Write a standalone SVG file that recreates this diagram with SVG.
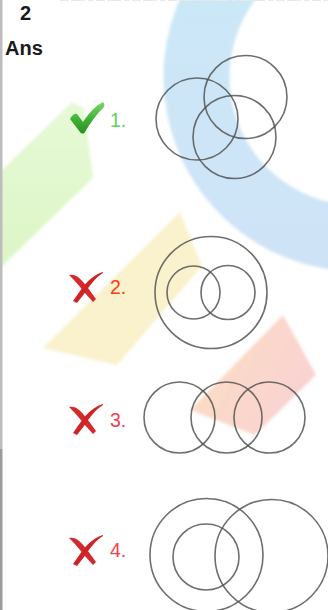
<svg xmlns="http://www.w3.org/2000/svg" width="328" height="610" viewBox="0 0 328 610">
  <defs>
    <filter id="soft" x="-20%" y="-20%" width="140%" height="140%">
      <feGaussianBlur stdDeviation="1.8"/>
    </filter>
    <linearGradient id="pinkGrad" x1="0" y1="0" x2="1" y2="0.4">
      <stop offset="0" stop-color="#fbdfc0"/>
      <stop offset="1" stop-color="#f9d2d2"/>
    </linearGradient>
    <linearGradient id="blueGrad" x1="0" y1="0" x2="0" y2="1">
      <stop offset="0" stop-color="#cae9f7"/>
      <stop offset="1" stop-color="#cfe3f7"/>
    </linearGradient>
    <linearGradient id="greenGrad" x1="0" y1="0" x2="0" y2="1">
      <stop offset="0" stop-color="#e6f9d6"/>
      <stop offset="1" stop-color="#dcf6c6"/>
    </linearGradient>
    <linearGradient id="checkGrad" x1="0" y1="0" x2="0" y2="1">
      <stop offset="0" stop-color="#7ad86a"/>
      <stop offset="0.6" stop-color="#3cad32"/>
      <stop offset="1" stop-color="#2a8f26"/>
    </linearGradient>
    <g id="xmark">
      <path d="M2,4 C9,2 15,9 21,17 L29,28 L26,31 L17,21 C11,13 6,8 2,4 Z" fill="#d42a2c"/>
      <path d="M36,1 C28,3 20,10 13,20 L6,30 L10,32 L17,23 C23,14 29,6 36,2 Z" fill="#cf2325"/>
    </g>
  </defs>
  <style>
    .ring { fill: none; stroke: #4e4e4e; stroke-opacity: 0.82; stroke-width: 1.6; }
    .head { font-family: "Liberation Sans", Arial, sans-serif; font-weight: bold; font-size: 20px; fill: #1a1a1a; }
    .lbl { font-family: "Liberation Sans", Arial, sans-serif; font-size: 19.5px; }
  </style>

  <rect width="328" height="610" fill="#ffffff"/>

  <!-- background decoration -->
  <g id="background" filter="url(#soft)">
    <circle cx="358" cy="77" r="161.5" fill="none" stroke="url(#blueGrad)" stroke-width="66"/>
    <path d="M0,172 L72,102 L84,108 L93,178 L0,268 Z" fill="url(#greenGrad)"/>
    <path d="M180,212 L202,266 L117,365 L43,348 Z" fill="#f9f2cd"/>
    <path d="M283,315 L316,375 L255,435 L190,410 Z" fill="url(#pinkGrad)"/>
  </g>

  <!-- top clipped remnant -->
  <line x1="60" y1="0.5" x2="328" y2="0.5" stroke="#e8e8e8" stroke-width="1" stroke-dasharray="9 2 14 3 6 2"/>

  <!-- left border -->
  <rect x="0" y="0" width="2.5" height="449" fill="#bdbdbd"/>
  <rect x="0" y="449" width="2.5" height="161" fill="#9c9c9c"/>

  <g id="header">
    <text class="head" x="20" y="19.5">2</text>
    <text class="head" x="5" y="54.5">Ans</text>
  </g>

  <g id="option1">
    <path d="M70,119 C72,115 75,113 77,114 L83,122 C89,113 95,106 103,102 C104,103 105,105 104,107 C97,114 90,123 85,132 C84,134 81,134 80,132 Z" fill="url(#checkGrad)"/>
    <text class="lbl" x="110" y="127" fill="#62cf62">1.</text>
    <circle class="ring" cx="197" cy="119" r="41"/>
    <circle class="ring" cx="245.5" cy="97" r="41.5"/>
    <circle class="ring" cx="234.5" cy="137" r="41.5"/>
  </g>

  <g id="option2">
    <use href="#xmark" x="67" y="271"/>
    <text class="lbl" x="110" y="294" fill="#ff3a14">2.</text>
    <circle class="ring" cx="211" cy="292.5" r="56"/>
    <circle class="ring" cx="193.5" cy="292.5" r="26.5"/>
    <circle class="ring" cx="228" cy="292.5" r="27"/>
  </g>

  <g id="option3">
    <use href="#xmark" x="67" y="403"/>
    <text class="lbl" x="110" y="426.5" fill="#f2404e">3.</text>
    <circle class="ring" cx="179.5" cy="417.5" r="35.5"/>
    <circle class="ring" cx="226.5" cy="417.5" r="35.5"/>
    <circle class="ring" cx="269.5" cy="417.5" r="35.5"/>
  </g>

  <g id="option4">
    <use href="#xmark" x="67" y="534"/>
    <text class="lbl" x="110" y="557" fill="#f2404e">4.</text>
    <circle class="ring" cx="206.5" cy="555" r="56.5"/>
    <circle class="ring" cx="206" cy="557" r="33"/>
    <circle class="ring" cx="271.5" cy="556" r="56.5"/>
  </g>
</svg>
